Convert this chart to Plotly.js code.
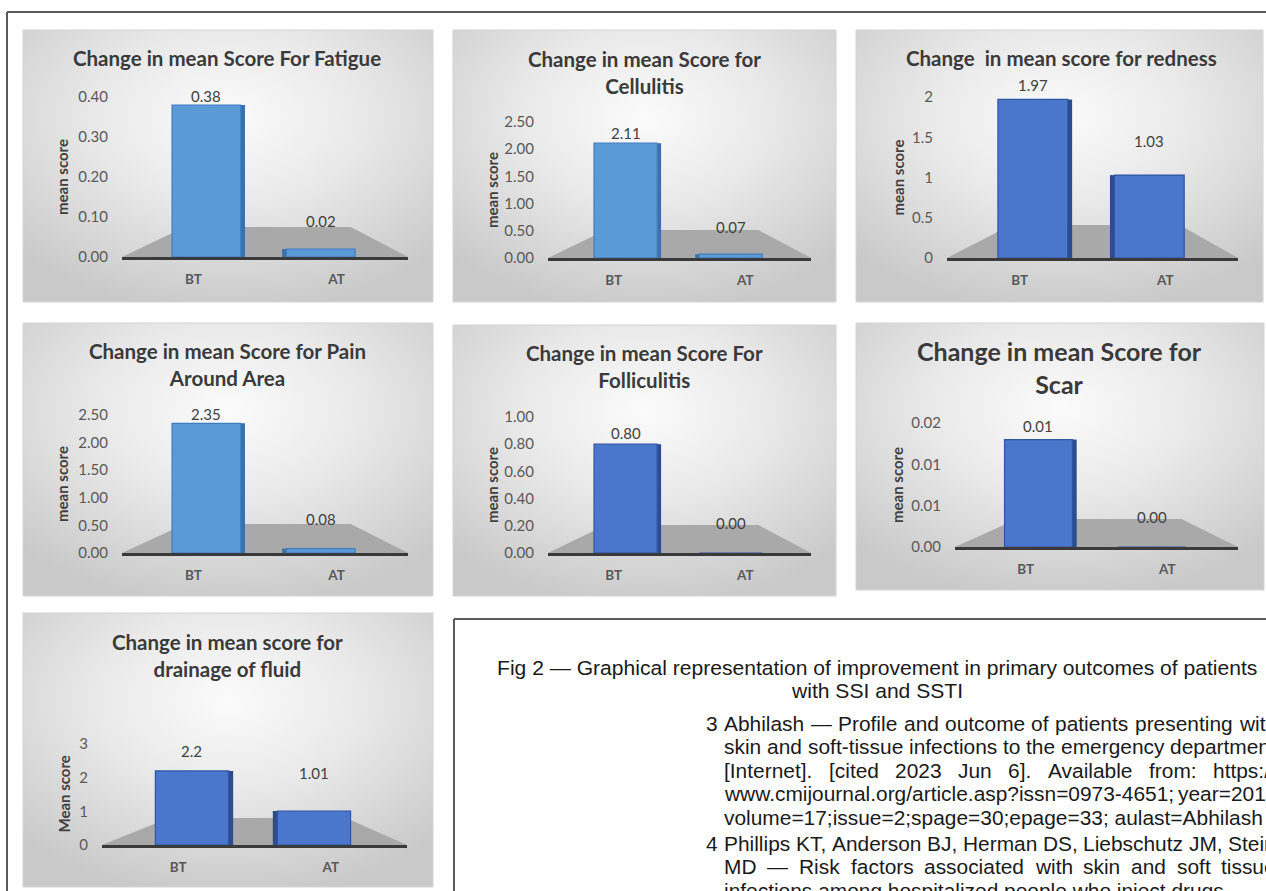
<!DOCTYPE html>
<html><head><meta charset="utf-8">
<script src="https://cdn.plot.ly/plotly-3.0.1.min.js"></script>
<style>html,body{margin:0;padding:0;background:#fff;overflow:hidden}</style>
</head><body><div id="chart" style="width:1266px;height:891px"></div>
<script>
// ---------------- DATA ----------------
const categories = ["BT", "AT"];

const fatigueValues      = [0.38, 0.02];
const cellulitisValues   = [2.11, 0.07];
const rednessValues      = [1.97, 1.03];
const painValues         = [2.35, 0.08];
const folliculitisValues = [0.80, 0.00];
const scarValues         = [0.013, 0.00];
const drainageValues     = [2.2, 1.01];

const fatigueLabels      = ["0.38", "0.02"];
const cellulitisLabels   = ["2.11", "0.07"];
const rednessLabels      = ["1.97", "1.03"];
const painLabels         = ["2.35", "0.08"];
const folliculitisLabels = ["0.80", "0.00"];
const scarLabels         = ["0.01", "0.00"];
const drainageLabels     = ["2.2", "1.01"];

const fatigueTicks      = [0, 0.1, 0.2, 0.3, 0.4];
const fatigueTickText   = ["0.00", "0.10", "0.20", "0.30", "0.40"];
const cellulitisTicks   = [0, 0.5, 1, 1.5, 2, 2.5];
const cellulitisTickText= ["0.00", "0.50", "1.00", "1.50", "2.00", "2.50"];
const rednessTicks      = [0, 0.5, 1, 1.5, 2];
const rednessTickText   = ["0", "0.5", "1", "1.5", "2"];
const painTicks         = [0, 0.5, 1, 1.5, 2, 2.5];
const painTickText      = ["0.00", "0.50", "1.00", "1.50", "2.00", "2.50"];
const folliculitisTicks = [0, 0.2, 0.4, 0.6, 0.8, 1];
const folliculitisTickText = ["0.00", "0.20", "0.40", "0.60", "0.80", "1.00"];
const scarTicks         = [0, 0.005, 0.01, 0.015];
const scarTickText      = ["0.00", "0.01", "0.01", "0.02"];
const drainageTicks     = [0, 1, 2, 3];
const drainageTickText  = ["0", "1", "2", "3"];

const chartTitles = [
  "Change in mean Score For Fatigue",
  "Change in mean Score for<br>Cellulitis",
  "Change  in mean score for redness",
  "Change in mean Score for Pain<br>Around Area",
  "Change in mean Score For<br>Folliculitis",
  "Change in mean Score for<br>Scar",
  "Change in mean score for<br>drainage of fluid"
];
const yTitles = ["mean score", "mean score", "mean score", "mean score", "mean score", "mean score", "Mean score"];

const captionLines = [
  "Fig 2 \u2014 Graphical representation of improvement in primary outcomes of patients",
  "with SSI and SSTI"
];
const refNumbers = ["3", "4"];
const refLines = [
  ["Abhilash \u2014 Profile and outcome of patients presenting with",
   "skin and soft-tissue infections to the emergency department",
   "[Internet]. [cited 2023 Jun 6]. Available from: https://",
   "www.cmijournal.org/article.asp?issn=0973-4651; year=2019;",
   "volume=17;issue=2;spage=30;epage=33; aulast=Abhilash"],
  ["Phillips KT, Anderson BJ, Herman DS, Liebschutz JM, Stein",
   "MD \u2014 Risk factors associated with skin and soft tissue",
   "infections among hospitalized people who inject drugs."]
];

// ---------------- LAYOUT HELPERS ----------------
const W = 1266, H = 891;
const px = v => v / W;
const py = v => 1 - v / H;

const themes = {
  light: {front: "#5b9bd5", edge: "#3f7dc2", side: "#3e6fa6"},
  dark:  {front: "#4a77cb", edge: "#2e55a1", side: "#2c4c8c"}
};

const panels = [
  {v: fatigueValues, l: fatigueLabels, t: fatigueTicks, tt: fatigueTickText, ymax: 0.4,
   box: [23, 30, 433, 302], xd: [122, 408], yd: [97, 257], tx: 227, ty: 58, ts: 20.5, ytx: 62, theme: "light", fh: 30, ls: [9, 28]},
  {v: cellulitisValues, l: cellulitisLabels, t: cellulitisTicks, tt: cellulitisTickText, ymax: 2.5,
   box: [453, 30, 836, 302], xd: [548, 811], yd: [122, 258], tx: 644, ty: 72.5, ts: 20.5, ytx: 492, theme: "light", fh: 28, ls: [10, 27]},
  {v: rednessValues, l: rednessLabels, t: rednessTicks, tt: rednessTickText, ymax: 2,
   box: [856, 30, 1263, 302], xd: [947, 1238], yd: [97, 258], tx: 1061, ty: 58, ts: 20.5, ytx: 897, theme: "dark", fh: 33, ls: [14, 34]},
  {v: painValues, l: painLabels, t: painTicks, tt: painTickText, ymax: 2.5,
   box: [23, 323, 433, 596], xd: [122, 408], yd: [415, 553], tx: 227, ty: 364.5, ts: 20.5, ytx: 62, theme: "light", fh: 29, ls: [9, 30]},
  {v: folliculitisValues, l: folliculitisLabels, t: folliculitisTicks, tt: folliculitisTickText, ymax: 1,
   box: [453, 325, 836, 596], xd: [548, 811], yd: [417, 553], tx: 644, ty: 366.5, ts: 20.5, ytx: 492, theme: "dark", fh: 28, ls: [11, 30]},
  {v: scarValues, l: scarLabels, t: scarTicks, tt: scarTickText, ymax: 0.015,
   box: [856, 323, 1264, 590], xd: [955, 1238], yd: [423, 547], tx: 1059, ty: 367.5, ts: 25, ytx: 897, theme: "dark", fh: 28, ls: [14, 30]},
  {v: drainageValues, l: drainageLabels, t: drainageTicks, tt: drainageTickText, ymax: 3,
   box: [23, 613, 433, 887], xd: [102, 407], yd: [744, 845], tx: 227, ty: 655.5, ts: 20.5, ytx: 63, theme: "dark", fh: 27, ls: [20, 38]}
];

const barOffset = [-0.15, -0.35], barWidth = [0.48, 0.48];
const sideOffset = [0.33, -0.38], sideWidth = [0.03, 0.03];

const gradSvg = "<svg xmlns='http://www.w3.org/2000/svg' viewBox='0 0 100 100' preserveAspectRatio='none'>" +
  "<defs><radialGradient id='g' cx='50%' cy='32%' r='72%' gradientUnits='objectBoundingBox'>" +
  "<stop offset='0' stop-color='#fbfbfb'/><stop offset='0.45' stop-color='#e9e9e9'/><stop offset='1' stop-color='#c9c9c9'/>" +
  "</radialGradient></defs><rect x='0' y='0' width='100' height='100' fill='url(#g)'/></svg>";
const gradURI = "data:image/svg+xml;charset=utf-8," + encodeURIComponent(gradSvg);

const data = [];
const layout = {
  width: W, height: H, margin: {l: 0, r: 0, t: 0, b: 0},
  paper_bgcolor: "#ffffff", plot_bgcolor: "rgba(0,0,0,0)",
  showlegend: false, barmode: "overlay",
  font: {family: "Lato, 'Open Sans', sans-serif", color: "#404040"},
  images: [], shapes: [], annotations: []
};

const tickColor = "#595959";

panels.forEach((p, i) => {
  const k = i + 1;
  const xId = k === 1 ? "x" : "x" + k, yId = k === 1 ? "y" : "y" + k;
  const xa = k === 1 ? "xaxis" : "xaxis" + k, ya = k === 1 ? "yaxis" : "yaxis" + k;
  const th = themes[p.theme];

  const b = p.box;
  layout.images.push({source: gradURI, xref: "paper", yref: "paper", x: px(b[0]), y: py(b[1]),
    sizex: (b[2] - b[0]) / W, sizey: (b[3] - b[1]) / H, xanchor: "left", yanchor: "top",
    sizing: "stretch", layer: "below"});
  layout.shapes.push({type: "rect", xref: "paper", yref: "paper", x0: px(b[0]), x1: px(b[2]), y0: py(b[3]), y1: py(b[1]),
    line: {color: "#d4d4d4", width: 1}, fillcolor: "rgba(0,0,0,0)", layer: "below"});

  const x0 = p.xd[0], x1 = p.xd[1], yb = p.yd[1], w = x1 - x0;
  const path = `M ${px(x0)} ${py(yb)} L ${px(x1)} ${py(yb)} L ${px(x1 - 0.2 * w)} ${py(yb - p.fh)} L ${px(x0 + 0.22 * w)} ${py(yb - p.fh)} Z`;
  layout.shapes.push({type: "path", xref: "paper", yref: "paper", path: path, fillcolor: "#a9a9a9", line: {width: 0}, layer: "below"});

  layout[xa] = {domain: [px(p.xd[0]), px(p.xd[1])], anchor: yId, type: "category", range: [-0.5, 1.5],
    showline: true, linecolor: "#3a3a3a", linewidth: 2.5, showgrid: false, zeroline: false, ticks: "",
    tickfont: {family: "Lato", size: 13.5, color: tickColor, weight: "bold"}, ticklabelstandoff: 8, fixedrange: true};
  layout[ya] = {domain: [py(p.yd[1]), py(p.yd[0])], anchor: xId, range: [0, p.ymax],
    tickmode: "array", tickvals: p.t, ticktext: p.tt, showline: false, showgrid: false, zeroline: false, ticks: "",
    tickfont: {family: "Lato", size: 15, color: tickColor}, ticklabelstandoff: 13, fixedrange: true};

  data.push({type: "bar", x: categories, y: p.v, xaxis: xId, yaxis: yId, width: sideWidth, offset: sideOffset,
    marker: {color: th.side, line: {width: 0}}, hoverinfo: "skip"});
  data.push({type: "bar", x: categories, y: p.v, xaxis: xId, yaxis: yId, width: barWidth, offset: barOffset,
    marker: {color: th.front, line: {color: th.edge, width: 1.2}}, hoverinfo: "skip"});

  categories.forEach((c, j) => {
    layout.annotations.push({xref: xId, yref: yId, x: j + barOffset[j] + barWidth[j] / 2, y: p.v[j],
      text: p.l[j], showarrow: false, xanchor: "center", yanchor: "middle", yshift: p.ls[j],
      font: {family: "Lato", size: 15, color: "#404040"}});
  });

  layout.annotations.push({xref: "paper", yref: "paper", x: px(p.tx), y: py(p.ty), text: chartTitles[i],
    showarrow: false, xanchor: "center", yanchor: "middle",
    font: {family: "Lato", size: p.ts, color: "#3a3a3a", weight: "bold"}});
  layout.annotations.push({xref: "paper", yref: "paper", x: px(p.ytx), y: py((p.yd[0] + p.yd[1]) / 2), text: yTitles[i],
    showarrow: false, textangle: -90, xanchor: "center", yanchor: "middle",
    font: {family: "Lato", size: 15, color: "#404040", weight: "bold"}});
});

// frames
const frameLine = {color: "#5a5a5a", width: 2};
layout.shapes.push({type: "line", xref: "paper", yref: "paper", x0: px(7), x1: px(1266), y0: py(12), y1: py(12), line: frameLine});
layout.shapes.push({type: "line", xref: "paper", yref: "paper", x0: px(7), x1: px(7), y0: py(12), y1: py(891), line: frameLine});
layout.shapes.push({type: "line", xref: "paper", yref: "paper", x0: px(454), x1: px(1266), y0: py(619), y1: py(619), line: frameLine});
layout.shapes.push({type: "line", xref: "paper", yref: "paper", x0: px(454), x1: px(454), y0: py(619), y1: py(891), line: frameLine});

// caption + references text, sized by measurement
const cv = document.createElement("canvas").getContext("2d");
const fam = "'Liberation Sans', Arial, sans-serif";
function measure(text, size) { cv.font = `${size}px ${fam}`; return cv.measureText(text).width; }
const capSize = 16 * 761 / measure(captionLines[0], 16);
const refSize = 16 * 539 / measure(refLines[0][4], 16);
const textFont = (s) => ({family: "Liberation Sans, Arial, sans-serif", size: s, color: "#1a1a1a"});

const capY = [667, 690];
captionLines.forEach((t, i) => {
  layout.annotations.push({xref: "paper", yref: "paper", x: px(877), y: py(capY[i]), text: t, showarrow: false,
    xanchor: "center", yanchor: "middle", font: textFont(capSize), borderpad: 0, borderwidth: 0});
});

const textLeft = 724, textRight = 1276, numX = 712, lineGap = 23.6;
const refStartY = [723, 843];
refLines.forEach((para, pi) => {
  layout.annotations.push({xref: "paper", yref: "paper", x: px(numX), y: py(refStartY[pi]), text: refNumbers[pi], showarrow: false,
    xanchor: "center", yanchor: "middle", font: textFont(refSize), borderpad: 0, borderwidth: 0});
  para.forEach((line, li) => {
    const yy = py(refStartY[pi] + lineGap * li);
    const justify = li < para.length - 1;
    if (!justify) {
      layout.annotations.push({xref: "paper", yref: "paper", x: px(textLeft), y: yy, text: line, showarrow: false,
        xanchor: "left", yanchor: "middle", font: textFont(refSize), borderpad: 0, borderwidth: 0});
      return;
    }
    const words = line.split(" ");
    const ws = words.map(w => measure(w, refSize));
    const total = ws.reduce((a, b) => a + b, 0);
    const gap = Math.max(measure(" ", refSize) * 0.8, (textRight - textLeft - total) / (words.length - 1));
    let xx = textLeft;
    words.forEach((w, wi) => {
      layout.annotations.push({xref: "paper", yref: "paper", x: px(xx), y: yy, text: w, showarrow: false,
        xanchor: "left", yanchor: "middle", font: textFont(refSize), borderpad: 0, borderwidth: 0});
      xx += ws[wi] + gap;
    });
  });
});

Plotly.newPlot("chart", data, layout, {staticPlot: true, displayModeBar: false});
</script>
</body></html>
